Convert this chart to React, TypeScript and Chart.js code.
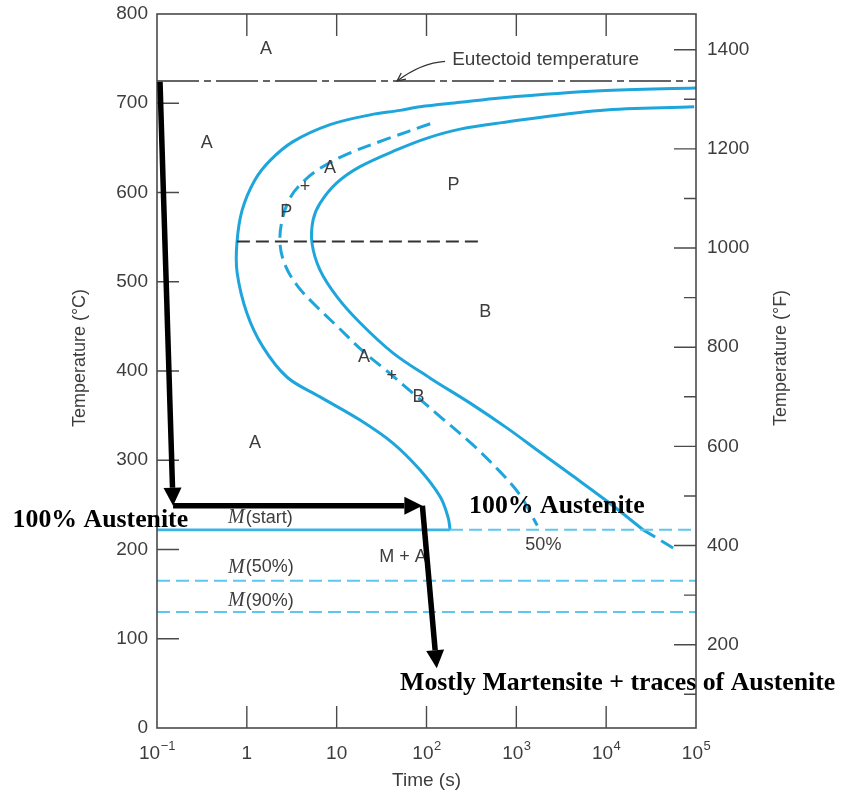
import React, { useEffect, useRef } from 'react';
import { Chart, registerables } from 'chart.js';

Chart.register(...registerables);

// ---------- axes ----------
const X_MIN = 0.1;
const X_MAX = 100000;
const C_MIN = 0;
const C_MAX = 800;
const xTickValues = [0.1, 1, 10, 100, 1000, 10000, 100000];
const xTickBase = ['10', '1', '10', '10', '10', '10', '10'];
const xTickExp = ['\u22121', '', '', '2', '3', '4', '5'];
const xInnerTicks = [1, 10, 100, 1000, 10000];
const cInnerTicks = [100, 200, 300, 400, 500, 600, 700];
const fMajorTicks = [200, 400, 600, 800, 1000, 1200, 1400];
const fMinorTicks = [100, 300, 500, 700, 900, 1100, 1300];

// ---------- curves (time in s, temperature in °C) ----------
const startTime = [100000, 8570, 661, 237, 84.9, 50.8, 23.6, 8.45, 3.27, 1.82, 1.23, 0.885, 0.775, 0.78, 1.0, 1.51, 2.81, 6.53, 18.2, 42.5, 84.9, 142, 174, 183];
const startTemp = [717, 714, 706, 701, 696, 692, 687, 676, 657, 636, 614, 580, 543, 510, 465, 427, 393, 371, 345, 319, 289, 259, 236, 222];

const finishTime = [95500, 8570, 661, 237, 102, 47.1, 18.2, 10.1, 6.53, 5.46, 5.32, 6.53, 10.1, 18.2, 42.5, 110, 306, 791, 1840, 4300, 10260, 25800];
const finishTemp = [696, 692, 678, 671, 661, 648, 629, 611, 588, 569, 543, 513, 483, 454, 420, 392, 364, 336, 309, 282, 254, 222];
const finishTailTime = [25800, 61800];
const finishTailTemp = [222, 199];

const halfTime = [110, 36.4, 13.1, 6.53, 4.23, 3.03, 2.47, 2.34, 2.66, 3.62, 5.74, 10.4, 19.2, 37.3, 74.6, 149, 322, 661, 1100, 1710];
const halfTemp = [677, 660, 643, 627, 612, 594, 569, 543, 519, 496, 474, 449, 423, 399, 373, 347, 318, 287, 261, 227];

// ---------- horizontal lines ----------
const eutectoidTemp = 725;
const msTemp = 222;
const msSolidEndTime = 183;
const m50Temp = 165;
const m90Temp = 130;
const noseTemp = 545;
const noseLineTime = [0.775, 395];

// ---------- cooling path (black arrows) ----------
const pathTime = [0.108, 0.151, 90, 130];
const pathTemp = [724, 249, 249, 67];

// ---------- labels ----------
const regionText = ['A', 'A', 'P', 'B', 'A', 'P', '+', 'A', 'A', '+', 'B', 'M + A', '50%'];
const regionTime = [1.63, 0.357, 200, 450, 1.23, 2.74, 4.45, 8.45, 20.2, 41.1, 81.3, 54.8, 2000];
const regionTemp = [761, 655, 608, 466, 319, 578, 606, 627, 416, 394, 371, 192, 205];

const mLabelSuffix = ['(start)', '(50%)', '(90%)'];
const mLabelTemp = [235.6, 180, 142.3];
const mLabelTime = 0.618;

const noteText = ['100% Austenite', '100% Austenite', 'Mostly Martensite + traces of Austenite'];
const noteTime = [0.00247, 298, 50.8];
const noteTemp = [225, 241, 43];

const eutectoidLabel = 'Eutectoid temperature';
const eutectoidLabelTime = 193;
const eutectoidLabelTemp = 748.5;
const eutectoidArrowTime = [161, 47.1];
const eutectoidArrowTemp = [747, 725];

// ---------- styles ----------
const SANS = "'Liberation Sans', Arial, Helvetica, sans-serif";
const SERIF = "'Liberation Serif', 'Times New Roman', serif";
const TEXT_GRAY = '#3d3d3d';
const AXIS_GRAY = '#4a4a4a';
const CURVE_BLUE = '#1ea6dc';
const LIGHT_BLUE = '#5fc7ec';

const pts = (xs: number[], ys: number[]) => xs.map((x, i) => ({ x, y: ys[i] }));

function drawArrow(ctx: CanvasRenderingContext2D, x1: number, y1: number, x2: number, y2: number, w: number, hl: number, hw: number) {
  const a = Math.atan2(y2 - y1, x2 - x1);
  const bx = x2 - hl * Math.cos(a);
  const by = y2 - hl * Math.sin(a);
  ctx.lineWidth = w;
  ctx.beginPath();
  ctx.moveTo(x1, y1);
  ctx.lineTo(bx, by);
  ctx.stroke();
  ctx.beginPath();
  ctx.moveTo(x2, y2);
  ctx.lineTo(bx + hw * Math.sin(a), by - hw * Math.cos(a));
  ctx.lineTo(bx - hw * Math.sin(a), by + hw * Math.cos(a));
  ctx.closePath();
  ctx.fill();
}

const tttPlugin = {
  id: 'tttDecor',
  afterDatasetsDraw(chart: any) {
    const ctx: CanvasRenderingContext2D = chart.ctx;
    const { left, right, top, bottom } = chart.chartArea;
    const xs = chart.scales.x;
    const ys = chart.scales.y;
    const fs = chart.scales.yF;
    const X = (v: number) => xs.getPixelForValue(v);
    const Y = (v: number) => ys.getPixelForValue(v);

    ctx.save();
    // frame
    ctx.strokeStyle = AXIS_GRAY;
    ctx.lineWidth = 1.6;
    ctx.strokeRect(left, top, right - left, bottom - top);
    // inner ticks
    ctx.lineWidth = 1.4;
    ctx.beginPath();
    cInnerTicks.forEach((v) => {
      const y = Y(v);
      ctx.moveTo(left, y);
      ctx.lineTo(left + 22, y);
    });
    xInnerTicks.forEach((v) => {
      const x = X(v);
      ctx.moveTo(x, bottom);
      ctx.lineTo(x, bottom - 22);
      ctx.moveTo(x, top);
      ctx.lineTo(x, top + 22);
    });
    fMajorTicks.forEach((v) => {
      const y = fs.getPixelForValue(v);
      ctx.moveTo(right, y);
      ctx.lineTo(right - 22, y);
    });
    fMinorTicks.forEach((v) => {
      const y = fs.getPixelForValue(v);
      ctx.moveTo(right, y);
      ctx.lineTo(right - 12, y);
    });
    ctx.stroke();

    // x tick labels with superscripts
    ctx.fillStyle = TEXT_GRAY;
    ctx.textBaseline = 'alphabetic';
    ctx.textAlign = 'left';
    xTickValues.forEach((v, i) => {
      const x = X(v);
      ctx.font = `19px ${SANS}`;
      const wb = ctx.measureText(xTickBase[i]).width;
      ctx.font = `13px ${SANS}`;
      const we = xTickExp[i] ? ctx.measureText(xTickExp[i]).width : 0;
      const x0 = x - (wb + we) / 2;
      ctx.font = `19px ${SANS}`;
      ctx.fillText(xTickBase[i], x0, bottom + 31);
      if (xTickExp[i]) {
        ctx.font = `13px ${SANS}`;
        ctx.fillText(xTickExp[i], x0 + wb + 0.5, bottom + 22);
      }
    });

    // axis titles
    ctx.font = `18px ${SANS}`;
    ctx.textAlign = 'center';
    ctx.textBaseline = 'middle';
    const midY = (top + bottom) / 2 - 13;
    ctx.save();
    ctx.translate(left - 77, midY);
    ctx.rotate(-Math.PI / 2);
    ctx.fillText('Temperature (\u00b0C)', 0, 0);
    ctx.restore();
    ctx.save();
    ctx.translate(right + 85, midY);
    ctx.rotate(-Math.PI / 2);
    ctx.fillText('Temperature (\u00b0F)', 0, 0);
    ctx.restore();
    ctx.font = `19px ${SANS}`;
    ctx.fillText('Time (s)', (left + right) / 2, bottom + 53);

    // region labels
    ctx.font = `18px ${SANS}`;
    regionText.forEach((t, i) => {
      ctx.fillText(t, X(regionTime[i]), Y(regionTemp[i]));
    });

    // M labels
    ctx.textAlign = 'left';
    mLabelSuffix.forEach((s, i) => {
      const x = X(mLabelTime);
      const y = Y(mLabelTemp[i]);
      ctx.font = `italic 20px ${SERIF}`;
      ctx.fillText('M', x, y);
      const wm = ctx.measureText('M').width;
      ctx.font = `18px ${SANS}`;
      ctx.fillText(s, x + wm + 1, y);
    });

    // eutectoid label + arrow
    ctx.font = `19px ${SANS}`;
    ctx.fillText(eutectoidLabel, X(eutectoidLabelTime), Y(eutectoidLabelTemp));
    {
      const sx = X(eutectoidArrowTime[0]);
      const sy = Y(eutectoidArrowTemp[0]);
      const ex = X(eutectoidArrowTime[1]);
      const ey = Y(eutectoidArrowTemp[1]);
      const cx = ex + 0.5 * (sx - ex);
      const cy = sy + 0.08 * (ey - sy);
      ctx.strokeStyle = '#333';
      ctx.lineWidth = 1.3;
      ctx.beginPath();
      ctx.moveTo(sx, sy);
      ctx.quadraticCurveTo(cx, cy, ex, ey);
      ctx.stroke();
      const a = Math.atan2(ey - cy, ex - cx);
      ctx.beginPath();
      ctx.moveTo(ex - 9 * Math.cos(a - 0.45), ey - 9 * Math.sin(a - 0.45));
      ctx.lineTo(ex, ey);
      ctx.lineTo(ex - 9 * Math.cos(a + 0.45), ey - 9 * Math.sin(a + 0.45));
      ctx.stroke();
    }

    // black cooling path arrows
    ctx.strokeStyle = '#000';
    ctx.fillStyle = '#000';
    ctx.lineCap = 'butt';
    for (let i = 0; i < pathTime.length - 1; i++) {
      drawArrow(ctx, X(pathTime[i]), Y(pathTemp[i]), X(pathTime[i + 1]), Y(pathTemp[i + 1]), 5.5, 18, 9);
    }

    // bold annotations
    ctx.font = `bold 25.8px ${SERIF}`;
    ctx.textAlign = 'left';
    ctx.textBaseline = 'alphabetic';
    noteText.forEach((t, i) => {
      ctx.fillText(t, X(noteTime[i]), Y(noteTemp[i]));
    });
    ctx.restore();
  },
};

export default function App() {
  const ref = useRef<HTMLCanvasElement>(null);
  useEffect(() => {
    if (!ref.current) return;
    const line = (data: any[], color: string, width: number, dash: number[] = [], tension = 0) => ({
      data,
      showLine: true,
      pointRadius: 0,
      borderColor: color,
      backgroundColor: color,
      borderWidth: width,
      borderDash: dash,
      tension,
      fill: false,
      xAxisID: 'x',
      yAxisID: 'y',
    });
    const chart = new Chart(ref.current, {
      type: 'scatter',
      data: {
        datasets: [
          line(pts([X_MIN, X_MAX], [eutectoidTemp, eutectoidTemp]), '#333', 1.5, [42, 5, 7, 5]),
          line(pts([X_MIN, X_MAX], [m50Temp, m50Temp]), LIGHT_BLUE, 2, [13, 6]),
          line(pts([X_MIN, X_MAX], [m90Temp, m90Temp]), LIGHT_BLUE, 2, [13, 6]),
          line(pts([msSolidEndTime, X_MAX], [msTemp, msTemp]), LIGHT_BLUE, 2, [13, 6]),
          line(pts([X_MIN, msSolidEndTime], [msTemp, msTemp]), '#3db3e4', 2.8),
          line(pts(noseLineTime, [noseTemp, noseTemp]), '#333', 2, [13, 6]),
          line(pts(startTime, startTemp), CURVE_BLUE, 3, [], 0.35),
          line(pts(finishTime, finishTemp), CURVE_BLUE, 3, [], 0.35),
          line(pts(finishTailTime, finishTailTemp), CURVE_BLUE, 3, [14, 7]),
          line(pts(halfTime, halfTemp), CURVE_BLUE, 3, [14, 7], 0.35),
        ],
      },
      options: {
        animation: false,
        responsive: false,
        maintainAspectRatio: false,
        layout: { padding: { top: 14, left: 0, right: 0, bottom: 0 } },
        plugins: { legend: { display: false }, tooltip: { enabled: false } },
        scales: {
          x: {
            type: 'logarithmic',
            min: X_MIN,
            max: X_MAX,
            grid: { display: false, drawTicks: false },
            border: { display: false },
            ticks: { display: false },
            afterFit: (s: any) => {
              s.height = 68;
              s.paddingLeft = 0;
              s.paddingRight = 0;
            },
          },
          y: {
            type: 'linear',
            position: 'left',
            min: C_MIN,
            max: C_MAX,
            grid: { display: false, drawTicks: false },
            border: { display: false },
            ticks: {
              stepSize: 100,
              padding: 9,
              color: TEXT_GRAY,
              font: { family: SANS, size: 19 },
              callback: (v: any) => String(v),
            },
            afterFit: (s: any) => {
              s.width = 157;
              s.paddingTop = 0;
              s.paddingBottom = 0;
            },
          },
          yF: {
            type: 'linear',
            position: 'right',
            min: C_MIN * 1.8 + 32,
            max: C_MAX * 1.8 + 32,
            grid: { display: false, drawTicks: false },
            border: { display: false },
            afterBuildTicks: (s: any) => {
              s.ticks = fMajorTicks.map((v) => ({ value: v }));
            },
            ticks: {
              padding: 11,
              color: TEXT_GRAY,
              font: { family: SANS, size: 19 },
              callback: (v: any) => String(v),
            },
            afterFit: (s: any) => {
              s.width = 160;
              s.paddingTop = 0;
              s.paddingBottom = 0;
            },
          },
        },
      } as any,
      plugins: [tttPlugin],
    });
    return () => chart.destroy();
  }, []);
  return (
    <canvas
      ref={ref}
      width={856}
      height={796}
      style={{ position: 'fixed', left: 0, top: 0, width: 856, height: 796, background: '#fff', display: 'block' }}
    />
  );
}
